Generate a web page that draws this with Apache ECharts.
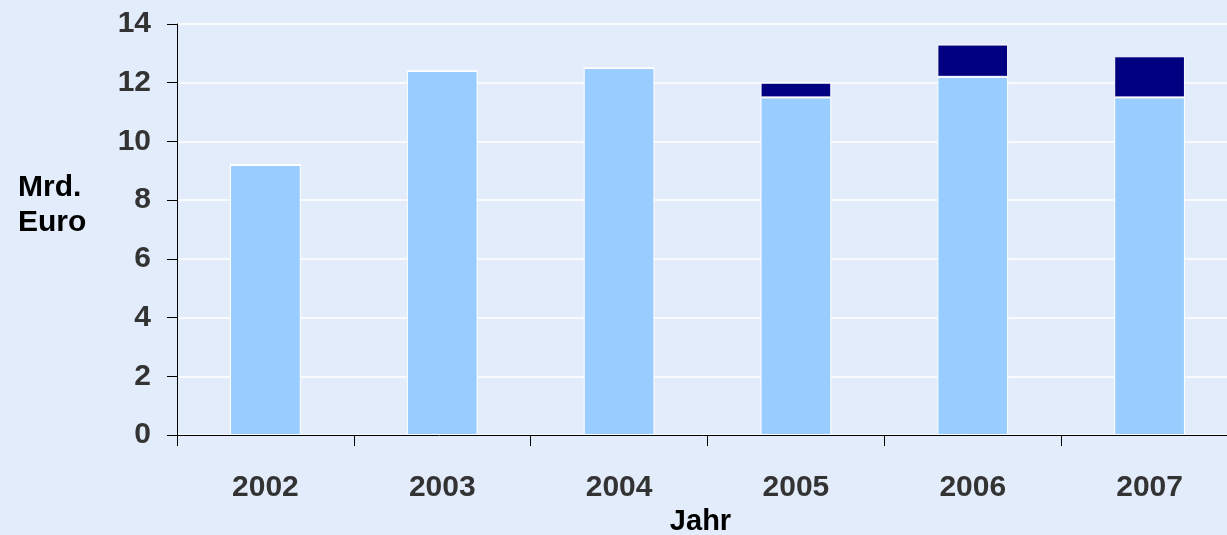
<!DOCTYPE html>
<html>
<head>
<meta charset="utf-8">
<script src="https://cdn.jsdelivr.net/npm/echarts@6/dist/echarts.min.js"></script>
<style>
html,body{margin:0;padding:0;background:#E3ECFA;}
#chart{width:1227px;height:535px;}
</style>
</head>
<body>
<div id="chart"></div>
<script>
var categories = ['2002', '2003', '2004', '2005', '2006', '2007'];
var baseValues = [9.2, 12.4, 12.5, 11.5, 12.2, 11.5];
var extraValues = [0, 0, 0, 0.5, 1.1, 1.4];
var yTicks = [0, 2, 4, 6, 8, 10, 12, 14];

var chart = echarts.init(document.getElementById('chart'));
var font = '"Liberation Sans", Arial, sans-serif';
chart.setOption({
  backgroundColor: '#E3ECFA',
  animation: false,
  grid: {left: 177, top: 24, width: 1061, height: 411, containLabel: false, outerBoundsMode: 'none'},
  xAxis: {
    type: 'category',
    data: categories,
    boundaryGap: true,
    axisLine: {lineStyle: {color: '#000', width: 1}},
    axisTick: {show: true, length: 11, lineStyle: {color: '#000'}},
    axisLabel: {margin: 38, color: '#333333', fontSize: 30, fontWeight: 'bold', fontFamily: font},
    name: 'Jahr',
    nameLocation: 'middle',
    nameGap: 72,
    nameTextStyle: {color: '#000', fontSize: 29, fontWeight: 'bold', fontFamily: font, padding: [0, 14, 0, 0]}
  },
  yAxis: {
    type: 'value',
    min: yTicks[0],
    max: yTicks[yTicks.length - 1],
    interval: 2,
    axisLine: {show: true, lineStyle: {color: '#000', width: 1}},
    axisTick: {show: true, length: 10, lineStyle: {color: '#000'}},
    axisLabel: {margin: 26, color: '#333333', fontSize: 30, fontWeight: 'bold', fontFamily: font},
    splitLine: {show: true, lineStyle: {color: '#FFFFFF', width: 1.5}}
  },
  graphic: [{
    type: 'text',
    left: 18,
    top: 170,
    style: {
      text: 'Mrd.\nEuro',
      fill: '#000',
      font: 'bold 30px ' + font,
      lineHeight: 35,
      align: 'left'
    }
  }],
  series: [{
    type: 'bar',
    stack: 'total',
    data: baseValues,
    barWidth: '40%',
    itemStyle: {color: '#99CCFF', borderColor: '#FFFFFF', borderWidth: 1}
  }, {
    type: 'bar',
    stack: 'total',
    data: extraValues,
    barWidth: '40%',
    itemStyle: {color: '#000080', borderColor: '#FFFFFF', borderWidth: 1}
  }]
});
</script>
</body>
</html>
